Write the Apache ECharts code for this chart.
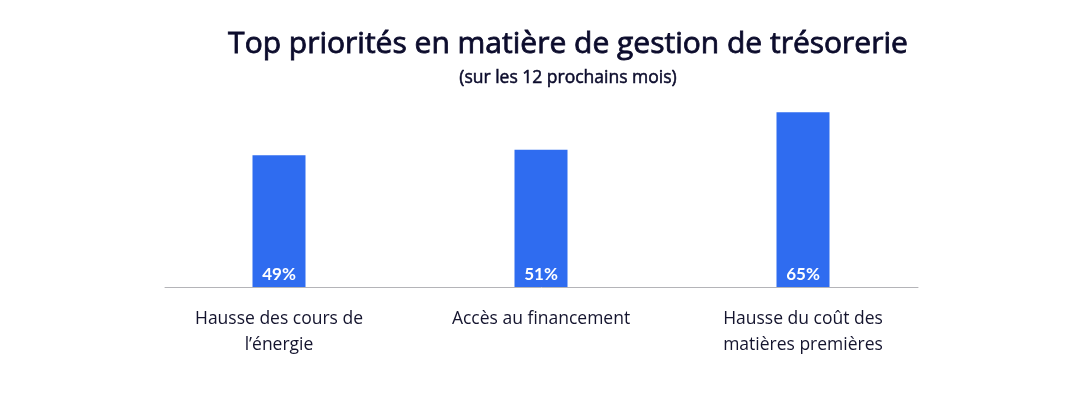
<!DOCTYPE html>
<html>
<head>
<meta charset="utf-8">
<script src="https://cdn.jsdelivr.net/npm/echarts@6/dist/echarts.min.js"></script>
<style>
html,body{margin:0;padding:0;background:#fff;}
#c{width:1080px;height:393px;}
</style>
</head>
<body>
<div id="c"></div>
<script>
var categories = ["Hausse des cours de\nl\u2019\u00e9nergie", "Acc\u00e8s au financement", "Hausse du co\u00fbt des\nmati\u00e8res premi\u00e8res"];
var values = [49, 51, 65];
var titleText = "Top priorit\u00e9s en mati\u00e8re de gestion de tr\u00e9sorerie";
var subtitleText = "(sur les 12 prochains mois)";

var FONT = "'Open Sans', 'Noto Sans', sans-serif";
var chart = echarts.init(document.getElementById('c'), null, {renderer: 'canvas'});
chart.setOption({
  backgroundColor: '#ffffff',
  animation: false,
  title: {
    text: titleText,
    subtext: subtitleText,
    left: 563,
    textAlign: 'center',
    top: 24,
    itemGap: 9,
    textStyle: {fontFamily: FONT, fontSize: 30, fontWeight: 'normal', color: '#0c0c2c',
                textBorderColor: '#0c0c2c', textBorderWidth: 0.8},
    subtextStyle: {fontFamily: FONT, fontSize: 17.5, fontWeight: 'normal', color: '#0c0c2c',
                   textBorderColor: '#0c0c2c', textBorderWidth: 0.5}
  },
  grid: [
    {left: 148, right: 146, top: 18, bottom: 106},
    {left: 165, right: 162, top: 18, bottom: 106}
  ],
  xAxis: [
    {
      type: 'category', gridIndex: 0, data: categories,
      axisLine: {show: false}, axisTick: {show: false},
      axisLabel: {fontFamily: FONT, fontSize: 17.5, color: '#14142e', margin: 19, lineHeight: 26, interval: 0}
    },
    {
      type: 'value', gridIndex: 1, min: 0, max: 1,
      axisLine: {show: true, lineStyle: {color: '#b4b4b8', width: 1}},
      axisTick: {show: false}, axisLabel: {show: false}, splitLine: {show: false}
    }
  ],
  yAxis: [
    {type: 'value', gridIndex: 0, min: 0, max: 100, show: false, splitLine: {show: false}},
    {type: 'value', gridIndex: 1, min: 0, max: 100, show: false, splitLine: {show: false}}
  ],
  series: [{
    type: 'bar', xAxisIndex: 0, yAxisIndex: 0,
    data: values, barWidth: 53,
    itemStyle: {color: '#2f6cf0'},
    label: {
      show: true, position: 'insideBottom', distance: 4,
      formatter: '{c}%', color: '#ffffff', fontFamily: "Lato, sans-serif", fontWeight: 'bold', fontSize: 17
    }
  }]
});
</script>
</body>
</html>
